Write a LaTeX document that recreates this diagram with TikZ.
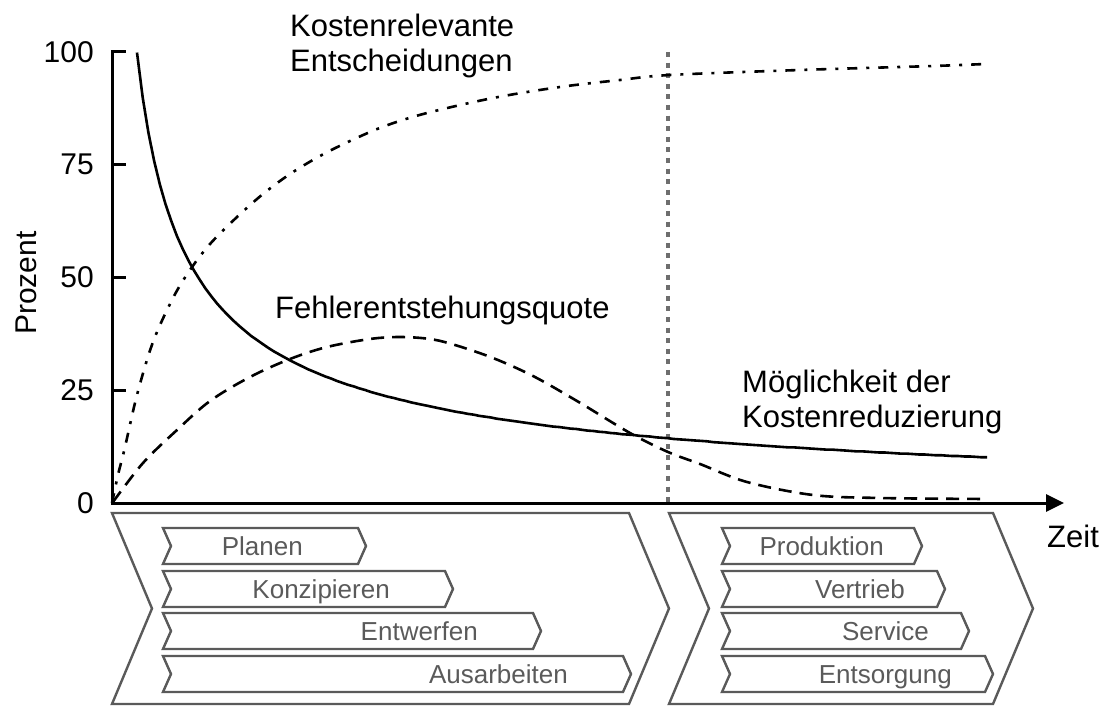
\documentclass[tikz,border=0pt]{standalone}
\usepackage{fontspec}
\setmainfont{Liberation Sans}
\usetikzlibrary{arrows.meta}
\definecolor{phasegray}{HTML}{5A5A5A}
\definecolor{markgray}{HTML}{6E6E6E}

% chevron outline: style, left x, tip x, top y, bottom y, pointer depth
\newcommand{\chevronbox}[6]{%
  \draw[#1] (#2,#4) -- ({#3-#6},#4) -- (#3,{(#4+#5)/2}) -- ({#3-#6},#5)
    -- (#2,#5) -- ({#2+#6},{(#4+#5)/2}) -- cycle;}

\begin{document}
\begin{tikzpicture}[x=1pt,y=-1pt,
  axisline/.style={line width=3pt,black},
  curve/.style={line width=2.6pt,black,line join=round},
  phase/.style={draw=phasegray,line width=2.4pt},
  task/.style={draw=phasegray,line width=2.4pt},
  biglabel/.style={font=\fontsize{31}{35}\selectfont,inner sep=0pt,text=black,align=left,anchor=base west},
  ticklabel/.style={font=\fontsize{30}{34}\selectfont,inner sep=0pt,anchor=east},
  tasklabel/.style={font=\fontsize{26}{30}\selectfont,inner sep=0pt,text=phasegray,anchor=base east},
]
\useasboundingbox (0,0) rectangle (1104,706);

% axes
\coordinate (origin) at (112,503);
\coordinate (ytop) at (112,52);
\coordinate (xend) at (1064,503);
\draw[axisline,line cap=rect] (ytop) -- (origin);
\draw[axisline,-{Triangle[length=18pt,width=17pt]}] (origin) -- (xend);
\foreach \v/\yy in {100/52,75/164.5,50/277,25/390} {
  \draw[axisline] (112,\yy) -- (126,\yy);
  \node[ticklabel] (tick\v) at (94,\yy) {\v};
}
\node[ticklabel] (tick0) at (94,503) {0};
\node[font=\fontsize{30}{34}\selectfont,inner sep=0pt,rotate=90] (ylabel) at (26,283) {Prozent};
\node[biglabel] (xlabel) at (1047,547) {Zeit};

% milestone between development and later life phases
\coordinate (mtop) at (668,52);
\coordinate (mbot) at (668,502);
\draw[markgray,line width=4pt,dash pattern=on 5pt off 5.6pt] (mtop) -- (mbot);

% cost-relevant decisions
\draw[curve,dash pattern=on 10pt off 9pt on 3pt off 9pt] plot[smooth,tension=0.55] coordinates {
  (112,503) (118,475) (125,447) (137,395) (153,342) (173,298) (190,270)
  (210,244) (237,217) (263,194) (290,174) (320,156) (350,141) (385,126)
  (427,113) (493,98) (560,87) (620,80) (670,75) (800,70) (933,66) (985,64)};

% error creation rate
\draw[curve,dash pattern=on 13pt off 8pt] plot[smooth,tension=0.55] coordinates {
  (113,502) (143,463) (177,430) (210,401) (250,377) (290,359) (327,347)
  (370,339) (400,337) (430,339) (455,345) (493,358) (533,376) (577,401)
  (630,433) (668,452) (700,464) (747,482) (813,495) (880,498) (987,499)};

% possibility of cost reduction: percentage = 884 (t-105)^(-0.62) - 3
\draw[curve] plot[domain=137:987,samples=150,variable=\t]
  (\t,{516.5-3978*exp(-0.62*ln(\t-105))});

% curve labels
\node[biglabel] (decisions) at (290,72) {Kostenrelevante\\Entscheidungen};
\node[biglabel] (errors) at (275,318) {Fehlerentstehungsquote};
\node[biglabel] (reduction) at (742,427) {Möglichkeit der\\Kostenreduzierung};

% life phases
\chevronbox{phase}{112}{669}{513}{704}{40}
\chevronbox{phase}{669}{1033}{513}{704}{40}

% development tasks
\chevronbox{task}{163}{366}{528}{564}{8}
\chevronbox{task}{163}{453}{571}{607}{8}
\chevronbox{task}{163}{541}{613}{649}{8}
\chevronbox{task}{163}{631}{656}{692}{8}
\node[tasklabel] (planen) at (303,555) {Planen};
\node[tasklabel] (konzipieren) at (390,598) {Konzipieren};
\node[tasklabel] (entwerfen) at (478,640) {Entwerfen};
\node[tasklabel] (ausarbeiten) at (568,683) {Ausarbeiten};

% later tasks
\chevronbox{task}{722}{922}{528}{564}{8}
\chevronbox{task}{722}{945}{571}{607}{8}
\chevronbox{task}{722}{969}{613}{649}{8}
\chevronbox{task}{722}{993}{656}{692}{8}
\node[tasklabel] (produktion) at (884,555) {Produktion};
\node[tasklabel] (vertrieb) at (905,598) {Vertrieb};
\node[tasklabel] (service) at (929,640) {Service};
\node[tasklabel] (entsorgung) at (952,683) {Entsorgung};
\end{tikzpicture}
\end{document}
